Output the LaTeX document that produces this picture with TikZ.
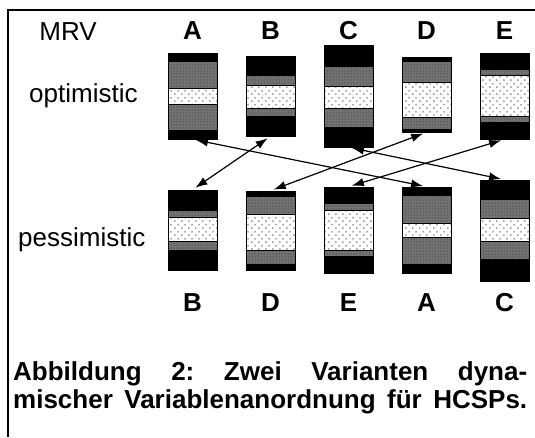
\documentclass[tikz,border=0pt]{standalone}
\usepackage{fontspec}
\setmainfont{Liberation Sans}
\usetikzlibrary{arrows.meta,patterns,patterns.meta,fit}
\frenchspacing

% sparse staggered dots for the light middle band
\tikzdeclarepattern{
  name=sparsedots,
  type=uncolored,
  bottom left={(-1pt,-1pt)},
  top right={(6pt,6pt)},
  tile size={(7pt,7pt)},
  code={
    \pgfpathcircle{\pgfpoint{0pt}{0pt}}{0.85pt}
    \pgfpathcircle{\pgfpoint{3.5pt}{3.5pt}}{0.85pt}
    \pgfusepath{fill}
  }
}

\tikzset{
  darkband/.style={fill=black!55, postaction={pattern=dots, pattern color=black!90}},
  lightband/.style={fill=white, postaction={pattern=sparsedots, pattern color=black!70}},
  boxrim/.style={draw=black, line width=0.6pt, inner sep=0pt},
  link/.style={{Latex[length=12pt,width=8.5pt]}-{Latex[length=12pt,width=8.5pt]},
    line width=1.2pt, shorten <=3.5pt, shorten >=3.5pt},
  lbl/.style={font=\fontsize{26}{31}\selectfont, inner sep=0pt, anchor=base},
  blbl/.style={lbl, font=\fontsize{26}{31}\selectfont\bfseries},
}

% #1 name, #2 left x, #3 top, #4 black/grey, #5 grey/white, #6 white/grey, #7 grey/black, #8 bottom
\newcommand\stripebox[8]{%
  \fill[black] (#2,#3) rectangle (#2+49,#8);
  \path[darkband] (#2,#4) rectangle (#2+49,#7);
  \path[lightband] (#2,#5) rectangle (#2+49,#6);
  \draw[line width=0.5pt] (#2,#5) -- (#2+49,#5) (#2,#6) -- (#2+49,#6);
  \node[boxrim, fit={(#2,#3) (#2+49,#8)}] (#1) {};
}

\begin{document}
\begin{tikzpicture}[x=1pt, y=-1pt]
\useasboundingbox (0,0) rectangle (535,437);

% frame
\draw[line width=2pt] (8,437) -- (8,10) -- (535,10);

% headings
\node[lbl] (mrv) at (68,40) {MRV};
\node[blbl] (hA) at (192.5,39) {A};
\node[blbl] (hB) at (270.5,39) {B};
\node[blbl] (hC) at (348.5,39) {C};
\node[blbl] (hD) at (426.5,39) {D};
\node[blbl] (hE) at (504.5,39) {E};

\node[lbl, anchor=base west] (opt) at (29,102) {optimistic};
\node[lbl, anchor=base west] (pes) at (18,246) {pessimistic};

% optimistic ordering
\stripebox{oA}{168}{53}{62}{88}{104}{130}{139}
\stripebox{oB}{246}{56}{76}{85}{108}{116}{136}
\stripebox{oC}{324}{45}{67}{86}{108}{127}{147}
\stripebox{oD}{402}{57}{62}{82}{117}{129}{132}
\stripebox{oE}{480}{53}{70}{75}{116}{122}{139}

% pessimistic ordering
\stripebox{pB}{168}{190}{211}{217}{241}{250}{270}
\stripebox{pD}{246}{191}{197}{214}{250}{264}{270}
\stripebox{pE}{324}{187}{204}{210}{250}{256}{273}
\stripebox{pA}{402}{187}{196}{223}{237}{264}{273}
\stripebox{pC}{480}{180}{200}{218}{241}{259}{281}

% links between the same variable in both orderings
\draw[link] (oA.south) -- (pA.north);
\draw[link] (oB.south) -- (pB.north);
\draw[link] (oC.south) -- (pC.north);
\draw[link] (oD.south) -- (pD.north);
\draw[link] (oE.south) -- (pE.north);

% bottom labels
\node[blbl] (bB) at (192.5,311) {B};
\node[blbl] (bD) at (270.5,311) {D};
\node[blbl] (bE) at (348.5,311) {E};
\node[blbl] (bA) at (426.5,311) {A};
\node[blbl] (bC) at (504.5,311) {C};

% caption
\node[blbl, anchor=base west] (cap1) at (13,380) {\makebox[514pt][s]{Abbildung 2: Zwei Varianten dyna-}};
\node[blbl, anchor=base west] (cap2) at (13,408) {\makebox[514pt][s]{mischer Variablenanordnung für HCSPs.}};
\end{tikzpicture}
\end{document}
